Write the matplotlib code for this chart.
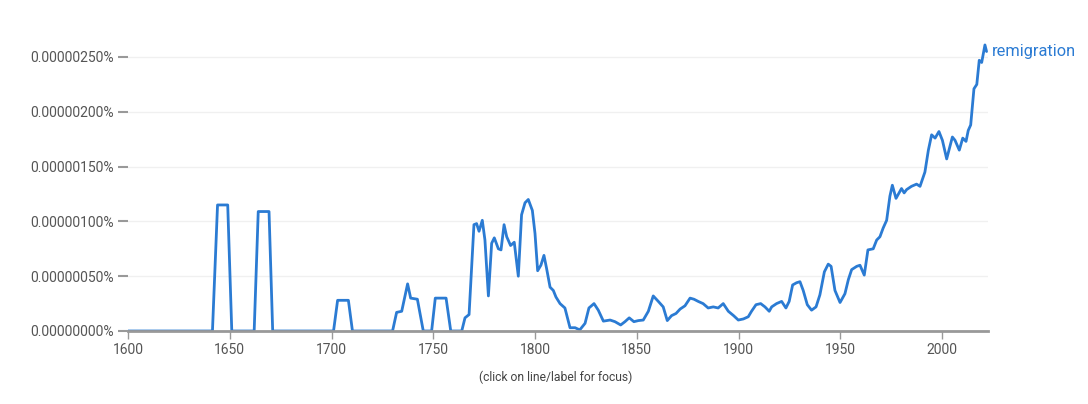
import matplotlib
matplotlib.use("Agg")
import matplotlib.pyplot as plt
from matplotlib.ticker import FuncFormatter

# Data: year, frequency (in units of 1e-6 percent)
years = [1600, 1641.5, 1644, 1649, 1651, 1662, 1664, 1669.3, 1671.1,
         1701, 1703, 1708.3, 1710.3, 1730, 1732, 1734.5, 1737.4, 1738.9, 1742.2, 1745.1,
         1749.2, 1751, 1756.3, 1758.6, 1764, 1765.6, 1767.6, 1770, 1771.3, 1772.5, 1774.1,
         1775.4, 1777.1, 1778.7, 1780, 1782, 1783.3, 1784.8, 1786.1, 1788, 1789.8, 1791.8,
         1793.4, 1795.1, 1796.7, 1798.7, 1800, 1801.3, 1802.9, 1804.4, 1805.7, 1807.4, 1809,
         1810.3, 1812.3, 1814.7, 1817.2, 1819.7, 1822, 1824.6, 1826.5, 1829, 1831.1, 1833.6,
         1836.9, 1839.3, 1842.1, 1844.2, 1846.3, 1848.6, 1850.8, 1853.2, 1855.7, 1858.1,
         1860.6, 1863, 1865, 1867.1, 1869.3, 1871.3, 1873.7, 1876.2, 1878.1, 1880.2, 1882.6,
         1885.1, 1887.6, 1890, 1892.5, 1895, 1897.6, 1899.9, 1902.4, 1904.8, 1906.4, 1908.6,
         1910.9, 1913, 1915.1, 1916.3, 1918.7, 1921.2, 1923.3, 1924.9, 1926.6, 1928.5,
         1930.2, 1931.8, 1933.8, 1935.9, 1938.1, 1940, 1942.2, 1944.1, 1945.5, 1947.4,
         1949.9, 1952.3, 1954, 1955.6, 1958.1, 1959.7, 1961.8, 1963.6, 1966.2, 1967.9,
         1969.5, 1971.1, 1972.8, 1974.4, 1975.6, 1977.4, 1980.1, 1981.4, 1982.6, 1985,
         1987.5, 1989.2, 1991.6, 1993.3, 1994.9, 1996.6, 1998.5, 2000.2, 2002.3, 2005.1,
         2006.4, 2008.5, 2010.2, 2011.8, 2012.9, 2014.1, 2015.7, 2017.1, 2018.3, 2019.5,
         2021.1, 2021.9]
values = [0.0, 0.0, 1.15, 1.15, 0.0, 0.0, 1.09, 1.09, 0.0,
          0.0, 0.28, 0.28, 0.0, 0.0, 0.17, 0.18, 0.43, 0.30, 0.29, 0.0,
          0.0, 0.30, 0.30, 0.0, 0.0, 0.12, 0.15, 0.97, 0.98, 0.91, 1.01,
          0.83, 0.32, 0.80, 0.85, 0.75, 0.74, 0.97, 0.86, 0.78, 0.81, 0.50,
          1.06, 1.17, 1.20, 1.10, 0.89, 0.55, 0.60, 0.69, 0.57, 0.40, 0.37,
          0.31, 0.25, 0.21, 0.03, 0.03, 0.01, 0.07, 0.21, 0.25, 0.19, 0.09,
          0.10, 0.085, 0.055, 0.085, 0.12, 0.085, 0.095, 0.10, 0.18, 0.32,
          0.27, 0.22, 0.095, 0.14, 0.16, 0.20, 0.23, 0.30, 0.29, 0.27, 0.25,
          0.21, 0.22, 0.21, 0.25, 0.18, 0.14, 0.10, 0.11, 0.13, 0.18, 0.24,
          0.25, 0.22, 0.18, 0.22, 0.25, 0.27, 0.21, 0.27, 0.42, 0.44,
          0.45, 0.37, 0.24, 0.19, 0.22, 0.33, 0.54, 0.61, 0.59, 0.37,
          0.26, 0.34, 0.47, 0.56, 0.59, 0.60, 0.51, 0.74, 0.75, 0.83,
          0.86, 0.94, 1.01, 1.23, 1.33, 1.21, 1.30, 1.26, 1.29, 1.32,
          1.34, 1.32, 1.45, 1.65, 1.79, 1.76, 1.82, 1.74, 1.57, 1.77,
          1.74, 1.65, 1.76, 1.73, 1.83, 1.88, 2.21, 2.25, 2.47, 2.45,
          2.61, 2.55]
series_label = "remigration"
x_ticks = [1600, 1650, 1700, 1750, 1800, 1850, 1900, 1950, 2000]
y_ticks = [0.0, 0.5, 1.0, 1.5, 2.0, 2.5]

W, H = 1088, 404
fig = plt.figure(figsize=(W / 100, H / 100), dpi=100)
left, right, top, bottom = 128, 988, 30, 331
ax = fig.add_axes([left / W, (H - bottom) / H, (right - left) / W, (bottom - top) / H])

color = "#2b7bd3"
ax.plot(years, values, color=color, lw=2.0, solid_joinstyle="round", solid_capstyle="round")

ymax = (bottom - top) / 274 * 2.5
ax.set_xlim(1600, 1600 + (right - left) / 2.035)
ax.set_ylim(0, ymax)

ax.set_xticks(x_ticks)
ax.set_yticks(y_ticks)
ax.yaxis.set_major_formatter(FuncFormatter(lambda v, p: f"{v * 1e-6:.8f}%"))
ax.grid(axis="y", color="#f0f0f0", lw=1)
ax.set_axisbelow(True)

for s in ["top", "right", "left"]:
    ax.spines[s].set_visible(False)
ax.spines["bottom"].set_color("#999999")
ax.spines["bottom"].set_linewidth(2)

ax.tick_params(axis="y", length=7, width=1.5, color="#999999", labelsize=10,
               labelcolor="#555555", pad=3)
ax.tick_params(axis="x", length=6, width=1, color="#999999", labelsize=10,
               labelcolor="#555555", pad=3)
for lab in ax.get_xticklabels() + ax.get_yticklabels():
    lab.set_fontfamily("Roboto")

ax.annotate(series_label, xy=(years[-1], values[-1]), xytext=(3.5, 0),
            textcoords="offset points", color=color, fontsize=11.8,
            fontfamily="Roboto", va="center", ha="left", annotation_clip=False)

fig.text(556 / W, 1 - 377 / H, "(click on line/label for focus)", ha="center", va="center",
         fontsize=8.7, color="#444444", fontfamily="Roboto")

fig.savefig("out.png", dpi=100)
